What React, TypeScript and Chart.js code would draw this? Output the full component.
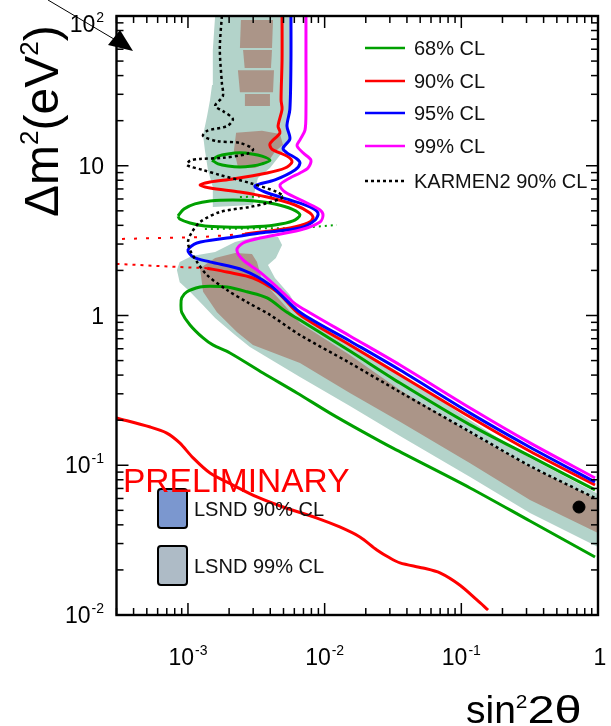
import { useEffect, useRef } from 'react';
import { Chart, registerables } from 'chart.js';

Chart.register(...registerables);

type P = [number, number];

// ---- axis ranges / ticks ----
const xRange: P = [3e-4, 1];
const yRange: P = [0.01, 100];
const xTickExponents = [-3, -2, -1, 0];
const yTickExponents = [-2, -1, 0, 1, 2];

// ---- legend texts ----
const legendLabels = ['68% CL', '90% CL', '95% CL', '99% CL', 'KARMEN2 90% CL'];
const lsndLabels = ['LSND 90% CL', 'LSND 99% CL'];

// ---- contours: [sin^2 2theta, dm^2] ----
const cl99Contour: P[] = [
  [7.3e-3, 100], [7.3e-3, 50.8], [7.3e-3, 23.6], [7.18e-3, 17.3], [6.6e-3, 14.9], [6.28e-3, 13.6],
  [6.95e-3, 12.2], [7.94e-3, 10.9], [7.55e-3, 9.66], [6.6e-3, 8.95], [5.57e-3, 8.29], [4.71e-3, 7.43],
  [5.13e-3, 6.68], [7.43e-3, 5.64], [9.25e-3, 5.07], [9.73e-3, 4.69], [9.25e-3, 4.21], [6.6e-3, 3.72],
  [3.36e-3, 3.29], [2.53e-3, 3.05], [2.28e-3, 2.74], [2.53e-3, 2.35], [3.36e-3, 1.95], [4.48e-3, 1.55],
  [5.87e-3, 1.23], [6.6e-3, 1.14], [1.53e-2, 0.73], [3.56e-2, 0.467], [0.116, 0.241], [0.318, 0.141],
  [0.951, 0.0822],
];

const cl95Contour: P[] = [
  [5.67e-3, 100], [5.67e-3, 50.8], [5.57e-3, 23.9], [5.3e-3, 18.4], [5.57e-3, 15.1], [4.96e-3, 13.1],
  [5.3e-3, 12.2], [6.28e-3, 11.1], [6.6e-3, 10.4], [6.07e-3, 9.37], [4.33e-3, 8.04], [3.09e-3, 7.32],
  [3.66e-3, 6.68], [5.57e-3, 5.91], [7.81e-3, 5.31], [8.94e-3, 4.83], [8.5e-3, 4.34], [6.6e-3, 3.84],
  [3.36e-3, 3.56], [1.93e-3, 3.29], [1.164e-3, 3.05], [1.0e-3, 2.74], [1.09e-3, 2.46], [1.45e-3, 2.28],
  [2.53e-3, 2.01], [3.98e-3, 1.6], [6.6e-3, 1.05], [1.53e-2, 0.676], [3.56e-2, 0.432], [0.116, 0.223],
  [0.318, 0.132], [0.951, 0.0773],
];

const cl90Contour: P[] = [
  [4.88e-3, 100], [4.88e-3, 50.8], [4.8e-3, 27.5], [4.88e-3, 23.9], [4.56e-3, 18.4], [4.71e-3, 16.6],
  [3.98e-3, 14.0], [4.12e-3, 12.9], [5.3e-3, 11.6], [5.77e-3, 10.6], [5.13e-3, 9.66], [3.79e-3, 8.95],
  [2.13e-3, 8.16], [1.45e-3, 7.79], [1.225e-3, 7.43], [1.45e-3, 7.1], [2.4e-3, 6.68], [3.79e-3, 6.18],
  [6.07e-3, 5.47], [7.81e-3, 4.83], [8.22e-3, 4.48], [7.55e-3, 4.15], [5.57e-3, 3.84], [3.85e-3, 3.66],
  [2.61e-3, 3.5],
];
const cl90DottedUpper: P[] = [[2.61e-3, 3.5], [1.225e-3, 3.34], [3.0e-4, 3.24]];
const cl90DottedLower: P[] = [[3.0e-4, 2.21], [8.3e-4, 2.11], [1.38e-3, 2.07]];
const cl90Band: P[] = [
  [1.38e-3, 2.07], [1.93e-3, 1.95], [2.99e-3, 1.78], [4.48e-3, 1.44], [6.6e-3, 1.01], [1.53e-2, 0.636],
  [3.56e-2, 0.401], [0.116, 0.21], [0.318, 0.124], [0.951, 0.0738],
];
const cl90LowerBranch: P[] = [
  [3.0e-4, 0.207], [5.3e-4, 0.18], [7.0e-4, 0.164], [8.7e-4, 0.141], [1.09e-3, 0.112], [1.45e-3, 0.0887],
  [2.13e-3, 0.0738], [3.2e-3, 0.0614], [4.96e-3, 0.0526], [8.79e-3, 0.0444], [1.29e-2, 0.0387],
  [1.81e-2, 0.0332], [2.41e-2, 0.0272], [3.01e-2, 0.024], [3.56e-2, 0.0223], [5.24e-2, 0.0206],
  [6.98e-2, 0.0191], [9.78e-2, 0.0158], [0.13, 0.0126], [0.157, 0.0108],
];

const cl68Band: P[] = [
  [0.951, 0.0684], [0.318, 0.115], [0.116, 0.186], [3.56e-2, 0.354], [1.53e-2, 0.579], [6.6e-3, 0.933],
  [5.3e-3, 1.05], [3.79e-3, 1.31], [2.7e-3, 1.44], [1.93e-3, 1.55], [1.45e-3, 1.57], [1.225e-3, 1.55],
  [9.84e-4, 1.44], [9.0e-4, 1.31], [8.89e-4, 1.17], [9.0e-4, 1.05], [1.035e-3, 0.865], [1.29e-3, 0.708],
  [1.52e-3, 0.636], [2.03e-3, 0.562], [3.54e-3, 0.413], [6.28e-3, 0.304], [1.094e-2, 0.223],
  [1.91e-2, 0.167], [3.16e-2, 0.13], [0.116, 0.0705], [0.318, 0.0424], [0.951, 0.0244],
];
const cl68SmallIsland: P[] = [
  [1.5e-3, 10.9], [1.66e-3, 11.6], [1.96e-3, 12.0], [2.4e-3, 12.2], [2.94e-3, 12.0], [3.48e-3, 11.6],
  [3.98e-3, 10.9], [3.48e-3, 10.3], [2.94e-3, 9.96], [2.4e-3, 9.81], [1.96e-3, 9.96], [1.66e-3, 10.3],
  [1.5e-3, 10.9],
];
const cl68LargeIsland: P[] = [
  [8.45e-4, 4.62], [9.35e-4, 5.14], [1.125e-3, 5.56], [1.45e-3, 5.82], [2.13e-3, 5.91], [3.09e-3, 5.82],
  [4.33e-3, 5.56], [5.77e-3, 5.14], [6.6e-3, 4.69], [5.87e-3, 4.28], [4.33e-3, 4.02], [2.84e-3, 3.9],
  [1.87e-3, 3.9], [1.33e-3, 3.96], [1.035e-3, 4.15], [8.7e-4, 4.41], [8.45e-4, 4.62],
];
const cl68DottedUpper: P[] = [[2.4e-3, 6.18], [4.96e-3, 6.28]];
const cl68DottedLower: P[] = [[1.33e-3, 3.78], [6.6e-3, 3.84], [1.23e-2, 4.02]];

const karmen2: P[] = [
  [1.77e-3, 100], [1.71e-3, 60.3], [1.77e-3, 35.7], [1.8e-3, 29.2], [1.58e-3, 25.1], [1.8e-3, 23.2],
  [2.13e-3, 20.5], [1.93e-3, 18.4], [1.38e-3, 17.1], [1.29e-3, 15.8], [1.63e-3, 14.6], [2.4e-3, 14.2],
  [2.99e-3, 12.9], [2.7e-3, 12.0], [1.8e-3, 11.3], [1.225e-3, 11.1], [1.035e-3, 10.8], [9.84e-4, 10.1],
  [1.29e-3, 9.37], [1.71e-3, 8.68], [2.84e-3, 7.67], [4.48e-3, 6.68], [4.96e-3, 6.18], [3.79e-3, 5.64],
  [2.84e-3, 5.31], [1.71e-3, 4.91], [1.225e-3, 4.21], [1.07e-3, 3.61], [1.0e-3, 3.1], [1.035e-3, 2.74],
  [1.164e-3, 2.28], [1.38e-3, 1.86], [1.93e-3, 1.48], [2.7e-3, 1.23], [3.98e-3, 1.01], [6.6e-3, 0.741],
  [1.53e-2, 0.482], [3.56e-2, 0.308], [0.116, 0.167], [0.318, 0.0989], [0.951, 0.0604],
];

// ---- LSND allowed regions (polygons) ----
const lsnd99Top: P[] = [
  [1.58e-3, 100], [5.57e-3, 100], [5.57e-3, 23.6], [5.3e-3, 18.4], [5.57e-3, 14.9], [5.04e-3, 12.7],
  [4.56e-3, 11.3], [3.98e-3, 9.66], [3.25e-3, 8.29], [3.09e-3, 6.89], [2.99e-3, 5.47], [1.52e-3, 5.31],
  [1.52e-3, 7.21], [1.4e-3, 9.37], [1.33e-3, 12.7], [1.29e-3, 16.0], [1.38e-3, 21.5], [1.45e-3, 27.5],
  [1.5e-3, 34.6], [1.52e-3, 59.3],
];
const lsnd99Band: P[] = [
  [8.3e-4, 2.01], [8.7e-4, 2.28], [1.07e-3, 2.5], [1.58e-3, 2.65], [2.21e-3, 3.1], [3.09e-3, 3.34],
  [4.56e-3, 3.34], [4.88e-3, 2.96], [4.4e-3, 2.42], [3.85e-3, 2.17], [4.33e-3, 1.78], [5.57e-3, 1.37],
  [6.6e-3, 1.04], [1.53e-2, 0.655], [3.56e-2, 0.413], [0.116, 0.2], [0.318, 0.112], [1, 0.0643],
  [1, 0.0284], [0.318, 0.048], [0.116, 0.0835], [3.56e-2, 0.157], [1.53e-2, 0.249], [6.6e-3, 0.388],
  [2.84e-3, 0.617], [2.21e-3, 0.741], [1.58e-3, 0.962], [1.29e-3, 1.17], [1.035e-3, 1.44], [8.7e-4, 1.67],
];
const lsnd90TopA: P[] = [[2.44e-3, 94], [4.19e-3, 94], [4.12e-3, 61.1], [2.4e-3, 61.1]];
const lsnd90TopB: P[] = [[2.53e-3, 59.3], [4.12e-3, 59.3], [4.05e-3, 45.0], [2.6e-3, 45.0]];
const lsnd90TopC: P[] = [[2.32e-3, 43.5], [4.26e-3, 43.5], [4.19e-3, 31.0], [2.4e-3, 31.0]];
const lsnd90TopD: P[] = [[2.61e-3, 30.1], [3.98e-3, 30.1], [3.98e-3, 25.1], [2.61e-3, 25.1]];
const lsnd90Mid: P[] = [
  [2.25e-3, 16.6], [3.48e-3, 17.1], [4.71e-3, 16.3], [4.96e-3, 13.8], [4.33e-3, 12.4], [3.85e-3, 10.6],
  [3.09e-3, 9.66], [2.32e-3, 9.81], [2.17e-3, 12.7],
];
const lsnd90Band: P[] = [
  [1.225e-3, 2.07], [1.58e-3, 2.42], [2.21e-3, 2.61], [2.94e-3, 2.57], [3.2e-3, 2.28], [3.48e-3, 1.72],
  [4.71e-3, 1.27], [6.6e-3, 0.891], [1.53e-2, 0.545], [3.56e-2, 0.318], [0.116, 0.164], [0.318, 0.0973],
  [1, 0.0586], [1, 0.0353], [0.318, 0.0586], [0.116, 0.103], [3.56e-2, 0.195], [1.53e-2, 0.304],
  [6.6e-3, 0.482], [2.99e-3, 0.636], [2.28e-3, 0.776], [1.63e-3, 1.05], [1.29e-3, 1.44],
];
const bestFit: P[] = [[0.726, 0.0526]];

// ---- colours ----
const GREEN = '#00a000';
const RED = '#ff0000';
const BLUE = '#0000ff';
const MAGENTA = '#ff00ff';
const TEAL = '#b3d3ca';
const BROWN = '#ab9588';
const LSND90_KEY = '#7b97cf';
const LSND99_KEY = '#aebbc6';

const FONT = '"Liberation Sans", Arial, Helvetica, sans-serif';

const toXY = (arr: P[]) => arr.map(([x, y]) => ({ x, y }));

function lineDs(label: string, data: P[], color: string, width: number, order: number, dash: number[] = [], tension = 0.3) {
  return {
    label, data: toXY(data), showLine: true, borderColor: color, borderWidth: width,
    borderDash: dash, pointRadius: 0, fill: false, tension, order,
    borderCapStyle: 'butt' as const, borderJoinStyle: 'round' as const,
  };
}
function areaDs(label: string, data: P[], color: string, order: number) {
  return {
    label, data: toXY(data), showLine: true, borderWidth: 0, borderColor: 'rgba(0,0,0,0)',
    backgroundColor: color, pointRadius: 0, fill: 'shape', tension: 0, order,
  };
}

function drawPow(ctx: CanvasRenderingContext2D, e: number, x: number, y: number, align: 'center' | 'right') {
  const base = e === 0 ? '1' : '10';
  const sup = e === 0 || e === 1 ? '' : String(e);
  ctx.font = `23px ${FONT}`;
  const wb = ctx.measureText(base).width;
  ctx.font = `14px ${FONT}`;
  const ws = sup ? ctx.measureText(sup).width + 1 : 0;
  const total = wb + ws;
  const x0 = align === 'center' ? x - total / 2 : x - total;
  ctx.textAlign = 'left';
  ctx.textBaseline = 'alphabetic';
  ctx.font = `23px ${FONT}`;
  ctx.fillText(base, x0, y);
  if (sup) {
    ctx.font = `14px ${FONT}`;
    ctx.fillText(sup, x0 + wb + 1, y - 10);
  }
}

function drawRuns(ctx: CanvasRenderingContext2D, x: number, y: number, runs: [string, number, number, number][]) {
  let cx = x;
  for (const [t, size, rise, sx] of runs) {
    ctx.font = `${size}px ${FONT}`;
    ctx.save();
    ctx.translate(cx, y - rise);
    ctx.scale(sx, 1);
    ctx.fillText(t, 0, 0);
    ctx.restore();
    cx += ctx.measureText(t).width * sx;
  }
}

const decor = {
  id: 'decor',
  afterDatasetsDraw(chart: any) {
    const { ctx, chartArea: a, scales } = chart;
    const xs = scales.x;
    const ys = scales.y;
    ctx.save();
    ctx.fillStyle = '#000';
    ctx.strokeStyle = '#000';

    // ticks (inward, all four sides)
    ctx.lineWidth = 1.5;
    const seg = (x1: number, y1: number, x2: number, y2: number) => {
      ctx.beginPath(); ctx.moveTo(x1, y1); ctx.lineTo(x2, y2); ctx.stroke();
    };
    for (let e = -5; e <= 2; e++) {
      for (let m = 1; m <= 9; m++) {
        const v = m * Math.pow(10, e);
        const len = m === 1 ? 12 : 7;
        if (v >= xRange[0] * 0.999 && v <= xRange[1] * 1.001) {
          const px = xs.getPixelForValue(v);
          seg(px, a.bottom, px, a.bottom - len);
          seg(px, a.top, px, a.top + len);
        }
        if (v >= yRange[0] * 0.999 && v <= yRange[1] * 1.001) {
          const py = ys.getPixelForValue(v);
          seg(a.left, py, a.left + len, py);
          seg(a.right, py, a.right - len, py);
        }
      }
    }
    // frame
    ctx.lineWidth = 2.4;
    ctx.strokeRect(a.left, a.top, a.right - a.left, a.bottom - a.top);

    // tick labels
    for (const e of xTickExponents) {
      const px = xs.getPixelForValue(Math.pow(10, e));
      drawPow(ctx, e, e === 0 ? px + 2 : px, 665, 'center');
    }
    for (const e of yTickExponents) {
      const py = ys.getPixelForValue(Math.pow(10, e));
      drawPow(ctx, e, 104, e === 2 ? 32 : py + 8, 'right');
    }

    // axis titles
    ctx.textAlign = 'left';
    ctx.textBaseline = 'alphabetic';
    drawRuns(ctx, 466, 723, [['sin', 39, 0, 1], ['2', 19, 15, 1.1], ['2θ', 39, 0, 1.25]]);
    ctx.save();
    ctx.translate(58, 217);
    ctx.rotate(-Math.PI / 2);
    drawRuns(ctx, 0, 0, [['Δm', 48, 0, 1], ['2', 26, 20, 1], ['(eV', 48, 0, 1], ['2', 26, 20, 1], [')', 48, 0, 1]]);
    ctx.restore();

    // arrow
    ctx.lineWidth = 1;
    seg(48, 0, 124, 45);
    ctx.beginPath();
    ctx.moveTo(133, 51); ctx.lineTo(108, 45); ctx.lineTo(120, 30); ctx.closePath();
    ctx.fill();

    // legend of contours
    const rows = [48, 81, 113, 146, 181];
    const cols = [GREEN, RED, BLUE, MAGENTA, '#000'];
    legendLabels.forEach((t, i) => {
      ctx.strokeStyle = cols[i];
      ctx.lineWidth = 2.5;
      ctx.setLineDash(i === 4 ? [3, 3] : []);
      seg(365, rows[i], 405, rows[i]);
      ctx.setLineDash([]);
      ctx.fillStyle = '#111';
      ctx.font = `20px ${FONT}`;
      ctx.textBaseline = 'middle';
      ctx.fillText(t, 414, rows[i] + 1);
    });

    // LSND key boxes
    const boxes: [number, string][] = [[489, LSND90_KEY], [546, LSND99_KEY]];
    boxes.forEach(([top, col], i) => {
      ctx.beginPath();
      (ctx as any).roundRect(158, top, 29, 39, 3);
      ctx.fillStyle = col;
      ctx.fill();
      ctx.strokeStyle = '#000';
      ctx.lineWidth = 2;
      ctx.stroke();
      ctx.fillStyle = '#111';
      ctx.font = `20px ${FONT}`;
      ctx.textBaseline = 'middle';
      ctx.fillText(lsndLabels[i], 194, top + 21);
    });

    // PRELIMINARY
    ctx.fillStyle = RED;
    ctx.font = `33.5px ${FONT}`;
    ctx.textBaseline = 'alphabetic';
    ctx.fillText('PRELIMINARY', 123, 492);
    ctx.restore();
  },
};

export default function App() {
  const ref = useRef<HTMLCanvasElement>(null);
  useEffect(() => {
    const datasets: any[] = [
      areaDs('LSND 99% CL top', lsnd99Top, TEAL, 20),
      areaDs('LSND 99% CL band', lsnd99Band, TEAL, 20),
      areaDs('LSND 90% CL top A', lsnd90TopA, BROWN, 19),
      areaDs('LSND 90% CL top B', lsnd90TopB, BROWN, 19),
      areaDs('LSND 90% CL top C', lsnd90TopC, BROWN, 19),
      areaDs('LSND 90% CL top D', lsnd90TopD, BROWN, 19),
      areaDs('LSND 90% CL mid', lsnd90Mid, BROWN, 19),
      areaDs('LSND 90% CL band', lsnd90Band, BROWN, 19),
      lineDs('68% CL', cl68Band, GREEN, 3, 8),
      lineDs('68% CL island 1', cl68SmallIsland, GREEN, 3, 8),
      lineDs('68% CL island 2', cl68LargeIsland, GREEN, 3, 8),
      lineDs('68% CL dotted 1', cl68DottedUpper, GREEN, 2, 8, [2, 4], 0),
      lineDs('68% CL dotted 2', cl68DottedLower, GREEN, 2, 8, [2, 4], 0),
      lineDs('90% CL', cl90Contour, RED, 3, 6),
      lineDs('90% CL dotted 1', cl90DottedUpper, RED, 2, 6, [3, 9], 0),
      lineDs('90% CL dotted 2', cl90DottedLower, RED, 2, 6, [3, 5], 0),
      lineDs('90% CL band', cl90Band, RED, 3, 6),
      lineDs('90% CL lower', cl90LowerBranch, RED, 3, 6),
      lineDs('95% CL', cl95Contour, BLUE, 3, 5),
      lineDs('99% CL', cl99Contour, MAGENTA, 3, 4),
      lineDs('KARMEN2 90% CL', karmen2, '#000', 2.5, 3, [3, 3]),
      {
        label: 'best fit', data: toXY(bestFit), showLine: false, pointRadius: 6,
        pointBackgroundColor: '#000', pointBorderColor: '#000', order: 0,
      },
    ];
    const chart = new Chart(ref.current!, {
      type: 'scatter',
      data: { datasets },
      options: {
        animation: false,
        responsive: false,
        devicePixelRatio: 1,
        layout: { padding: { left: 116.5, right: 13, top: 16, bottom: 111 } },
        scales: {
          x: { type: 'logarithmic', min: xRange[0], max: xRange[1], display: false },
          y: { type: 'logarithmic', min: yRange[0], max: yRange[1], display: false },
        },
        plugins: { legend: { display: false }, tooltip: { enabled: false }, title: { display: false } },
      },
      plugins: [decor],
    } as any);
    return () => chart.destroy();
  }, []);
  return (
    <div style={{ position: 'absolute', left: 0, top: 0, width: 611, height: 726, background: '#fff' }}>
      <canvas ref={ref} width={611} height={726} style={{ display: 'block', width: 611, height: 726 }} />
    </div>
  );
}
